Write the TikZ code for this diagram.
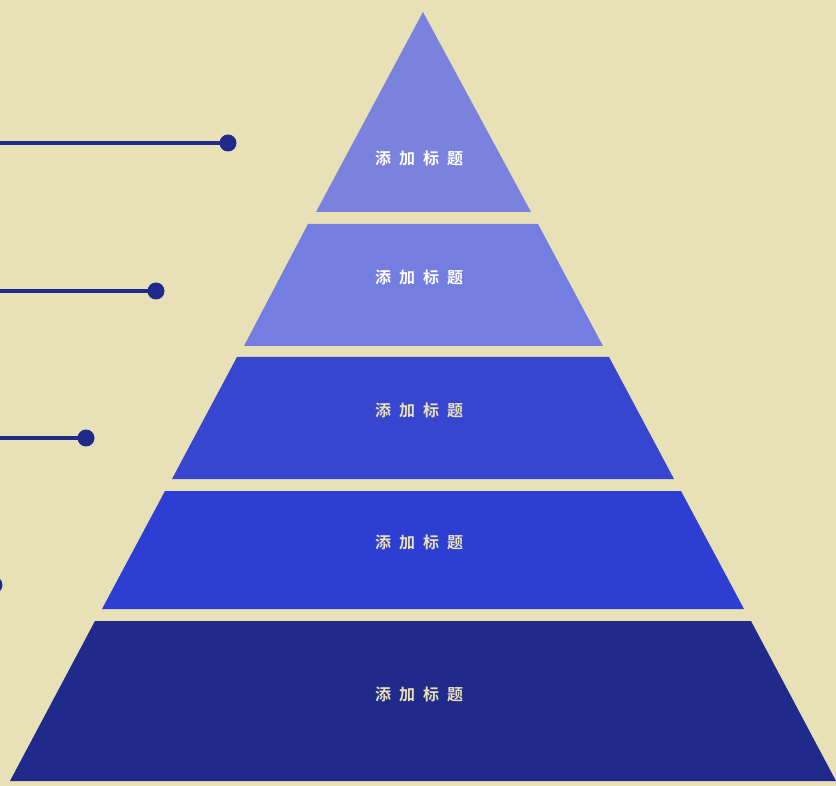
\documentclass[tikz,border=0pt]{standalone}
\usepackage{fontspec}
\newfontfamily\cjk[BoldFont={Noto Sans CJK SC Bold}]{Noto Sans CJK SC}
\definecolor{bg}{HTML}{E8E1B8}
\definecolor{cA}{HTML}{7A82DD}
\definecolor{cB}{HTML}{737EE0}
\definecolor{cC}{HTML}{3746CF}
\definecolor{cD}{HTML}{2D3ED2}
\definecolor{cE}{HTML}{1F2A8A}
\definecolor{txtB}{HTML}{E8E0B8}
\newcommand{\ttl}{添\hspace{8pt}加\hspace{8pt}标\hspace{8pt}题}
\begin{document}
\begin{tikzpicture}[x=1pt,y=-1pt,
  lbl/.style={font=\cjk\bfseries\fontsize{16}{16}\selectfont,inner sep=0pt},
  conn/.style={draw=cE,line width=3.5pt},
  dot/.style={circle,fill=cE,inner sep=0pt,minimum size=17pt}]
\fill[bg] (0,0) rectangle (836,786);
\useasboundingbox (0,0) rectangle (836,786);
\fill[cA] (423,12) -- (531,212) -- (316,212) -- cycle;
\fill[cB] (308,224) -- (538,224) -- (603,346) -- (244,346) -- cycle;
\fill[cC] (237,357) -- (609,357) -- (674,479) -- (172,479) -- cycle;
\fill[cD] (165,491) -- (681,491) -- (744,609) -- (102,609) -- cycle;
\fill[cE] (95,621) -- (751,621) -- (836,781) -- (10,781) -- cycle;
\node[lbl,text=white] (t1) at (419,158) {\ttl};
\node[lbl,text=white] (t2) at (419,277) {\ttl};
\node[lbl,text=txtB] (t3) at (419,410) {\ttl};
\node[lbl,text=txtB] (t4) at (419,542) {\ttl};
\node[lbl,text=txtB] (t5) at (419,694) {\ttl};
\coordinate (s1) at (0,143);
\coordinate (s2) at (0,291);
\coordinate (s3) at (0,438);
\coordinate (s4) at (-30,585);
\node[dot] (d1) at (228,143) {};
\node[dot] (d2) at (156,291) {};
\node[dot] (d3) at (86,438) {};
\node[dot] (d4) at (-6,585) {};
\draw[conn] (s1) -- (d1.center);
\draw[conn] (s2) -- (d2.center);
\draw[conn] (s3) -- (d3.center);
\draw[conn] (s4) -- (d4.center);
\end{tikzpicture}
\end{document}
